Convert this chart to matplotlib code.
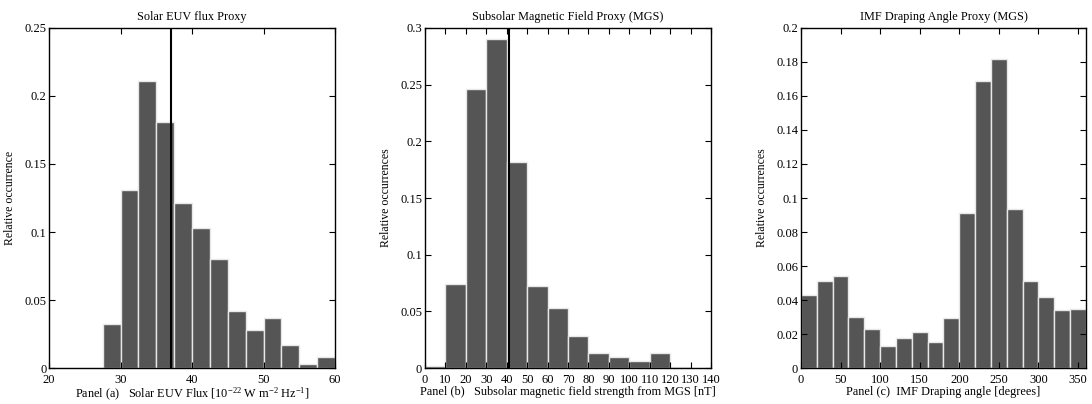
import matplotlib
import matplotlib.pyplot as plt
import numpy as np
from matplotlib.ticker import FuncFormatter

matplotlib.use('Agg')
plt.rcParams['font.family'] = ['Liberation Serif', 'DejaVu Serif']
plt.rcParams['mathtext.fontset'] = 'custom'
plt.rcParams['mathtext.rm'] = 'Liberation Serif'
plt.rcParams['mathtext.it'] = 'Liberation Serif:italic'
plt.rcParams['font.size'] = 8

# Panel (a): solar EUV flux, bins of 2.5 from 20 to 60
euv_edges = np.arange(20, 60.1, 2.5)
euv_freq = [0, 0, 0, 0.032, 0.131, 0.211, 0.181, 0.121, 0.103, 0.080,
            0.042, 0.028, 0.037, 0.017, 0.003, 0.008]
euv_median = 37.0

# Panel (b): subsolar magnetic field, bins of 10 nT
mgs_edges = np.arange(0, 141, 10)
mgs_freq = [0.002, 0.074, 0.246, 0.290, 0.182, 0.072, 0.053, 0.028,
            0.013, 0.010, 0.006, 0.013, 0.0005, 0.0]
mgs_median = 41.0

# Panel (c): IMF draping angle, bins of 20 degrees
imf_edges = np.arange(0, 361, 20)
imf_freq = [0.043, 0.051, 0.054, 0.030, 0.023, 0.013, 0.0175, 0.021, 0.0155,
            0.0295, 0.091, 0.169, 0.1815, 0.0935, 0.051, 0.042, 0.034, 0.035]

fig = plt.figure(figsize=(10.92, 4.04), dpi=100)
fmt = FuncFormatter(lambda v, p: '%g' % round(v, 4))


def panel(rect, edges, freq, xlim, ylim, xticks, yticks, title, xlabel, ylabel, vline=None):
    ax = fig.add_axes(rect)
    ax.bar(edges[:-1], freq, width=np.diff(edges), align='edge',
           color='#555555', edgecolor='#e8e8e8', linewidth=1.0)
    if vline is not None:
        ax.axvline(vline, color='black', linewidth=1.5)
    ax.set_xlim(xlim)
    ax.set_ylim(ylim)
    ax.set_xticks(xticks)
    ax.set_yticks(yticks)
    ax.yaxis.set_major_formatter(fmt)
    ax.tick_params(direction='in', top=True, right=True, length=4, labelsize=9, pad=2)
    ax.tick_params(axis='x', pad=4.5)
    ax.set_title(title, fontsize=8.8, pad=6)
    ax.set_xlabel(xlabel, fontsize=8.8, labelpad=0)
    ax.set_ylabel(ylabel, fontsize=8.5, labelpad=6)
    for s in ax.spines.values():
        s.set_linewidth(1.0)
    return ax


panel([0.0449, 0.0891, 0.2619, 0.8416], euv_edges, euv_freq, (20, 60), (0, 0.25),
      np.arange(20, 61, 10), np.arange(0, 0.251, 0.05),
      'Solar EUV flux Proxy',
      'Panel (a)   Solar EUV Flux [10$^{-22}$ W m$^{-2}$ Hz$^{-1}$]',
      'Relative occurrence', vline=euv_median)

panel([0.3892, 0.0891, 0.2619, 0.8416], mgs_edges, mgs_freq, (0, 140), (0, 0.3),
      np.arange(0, 141, 10), np.arange(0, 0.301, 0.05),
      'Subsolar Magnetic Field Proxy (MGS)',
      'Panel (b)   Subsolar magnetic field strength from MGS [nT]',
      'Relative occurrences', vline=mgs_median)

panel([0.7335, 0.0891, 0.2610, 0.8416], imf_edges, imf_freq, (0, 360), (0, 0.2),
      np.arange(0, 351, 50), np.arange(0, 0.201, 0.02),
      'IMF Draping Angle Proxy (MGS)',
      'Panel (c)  IMF Draping angle [degrees]',
      'Relative occurrences')

fig.savefig('out.png', dpi=100)
